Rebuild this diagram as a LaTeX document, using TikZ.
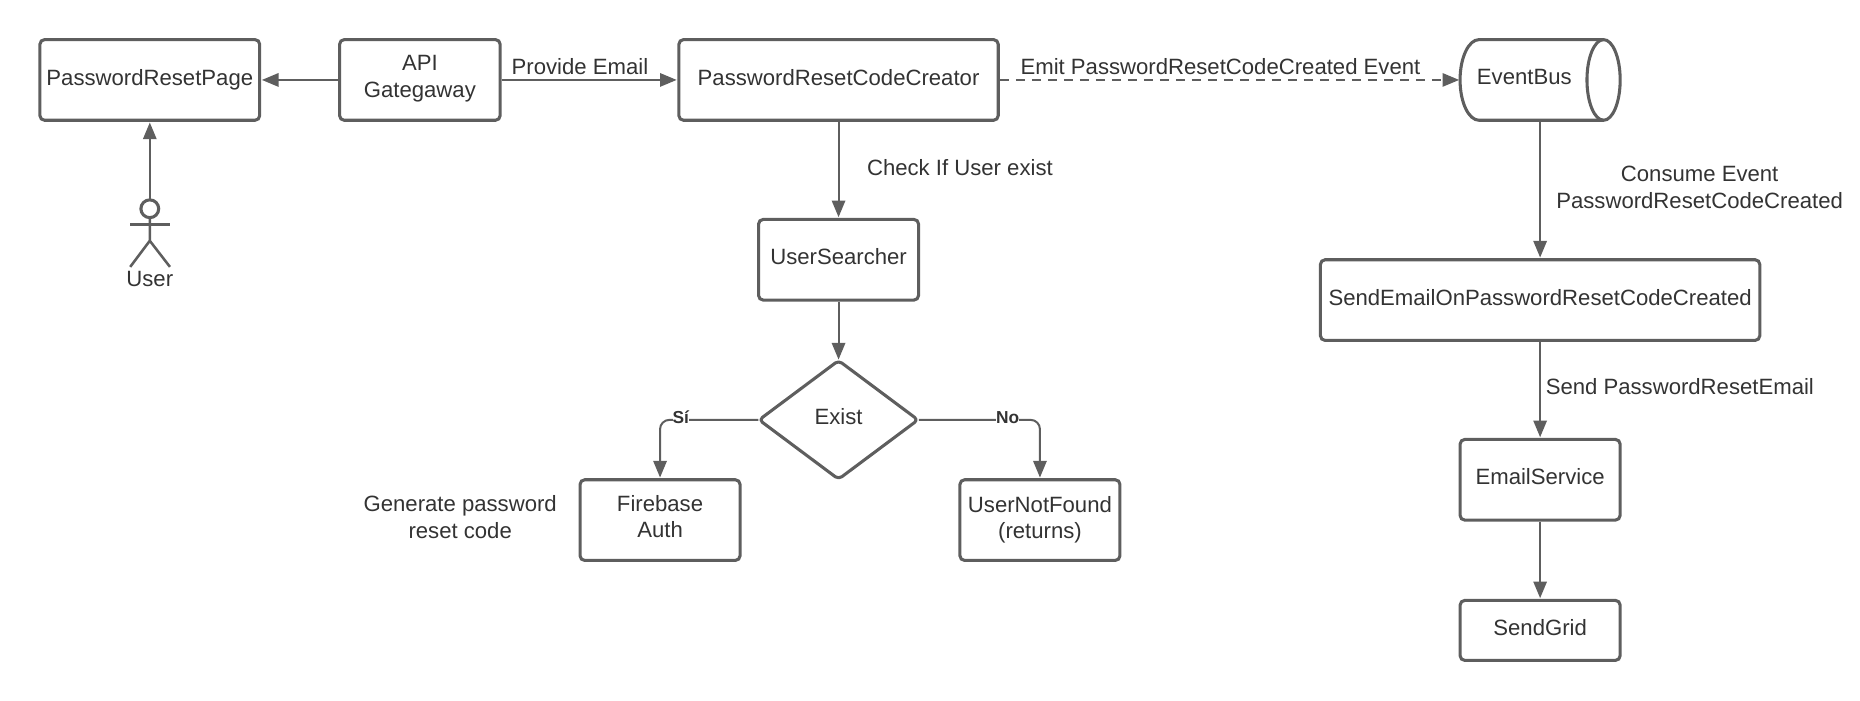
\documentclass[tikz,border=0pt]{standalone}
\usepackage{fontspec}
\setmainfont{Liberation Sans}
\usetikzlibrary{arrows.meta,shapes.geometric}
\definecolor{ln}{HTML}{5E5E5E}
\definecolor{tx}{HTML}{333333}
\newcommand{\twolines}[3]{\raisebox{#3}[\height][\depth]{\begin{tabular}{@{}c@{}}#1\\#2\end{tabular}}}
\tikzset{
  x=0.8895pt,y=-0.8895pt,
  lab/.style={inner sep=0pt,text=tx,align=center,font=\fontsize{16.6}{19.6}\selectfont},
  boxn/.style={lab,draw=ln,line width=2.3pt,rounded corners=3.5pt,fill=white,minimum height=60.5pt},
  con/.style={draw=ln,line width=1.5pt,-{Triangle[length=12.5pt,width=10pt]},shorten >=0.5pt},
  tag/.style={inner sep=0pt,fill=white,text=tx,font=\fontsize{13}{15}\selectfont\bfseries},
}
\begin{document}
\begin{tikzpicture}
\useasboundingbox (0,0) rectangle (1568.2,590.2);
% boxes
\node[boxn,minimum width=164.8pt] (page) at (126.3,67.4) {\raisebox{2.5pt}{PasswordResetPage}};
\node[boxn,minimum width=120.4pt] (api) at (354,67.4) {\twolines{API}{Gategaway}{0.9pt}};
\node[boxn,minimum width=239.5pt] (creator) at (707,67.4) {\raisebox{3pt}{PasswordResetCodeCreator}};
\node[boxn,minimum width=120pt] (searcher) at (707,219) {\raisebox{4.5pt}{UserSearcher}};
\node[boxn,minimum width=120pt] (firebase) at (556.5,438.5) {\twolines{Firebase}{Auth}{0.9pt}};
\node[boxn,minimum width=120pt] (notfound) at (876.8,438.5) {\twolines{UserNotFound}{(returns)}{0pt}};
\node[boxn,minimum width=329.5pt] (sender) at (1298.5,253) {\raisebox{4.5pt}{SendEmailOnPasswordResetCodeCreated}};
\node[boxn,minimum width=120pt] (mail) at (1298.5,404.5) {\raisebox{4.5pt}{EmailService}};
\node[boxn,minimum width=120pt,minimum height=45pt] (grid) at (1298.5,531.5) {\raisebox{4.5pt}{SendGrid}};
% decision
\node[lab,minimum width=120pt,minimum height=89pt] (exist) at (707,354) {\raisebox{5pt}{Exist}};
\draw[draw=ln,line width=2.3pt,rounded corners=3pt,line join=round]
  (640,354) -- (707,304) -- (774,354) -- (707,404) -- cycle;
% event bus
\node[lab,minimum width=120pt,minimum height=60.5pt] (bus) at (1298.5,67.4) {};
\node[lab] (bustext) at (1285.2,65) {EventBus};
\draw[draw=ln,line width=2.3pt] (1352,33.4) -- (1247,33.4)
  arc[start angle=270,end angle=90,x radius=16,y radius=34] -- (1352,101.4);
\draw[draw=ln,line width=2.3pt] (1352,67.4) ellipse[x radius=14,y radius=34];
% actor
\coordinate (head) at (126.3,168);
\draw[draw=ln,line width=2.3pt] (126.3,176) circle[radius=7.5];
\draw[draw=ln,line width=1.9pt] (126.3,183.5) -- (126.3,203) (109.8,225) -- (126.3,203) -- (143.3,225);
\draw[draw=ln,line width=2.4pt] (109.8,189.5) -- (143.3,189.5);
\node[lab] (user) at (126.3,235) {User};
% connectors
\draw[con] (head) -- (page);
\draw[con] (api) -- (page);
\draw[con] (api) -- (creator);
\draw[con,dashed,dash pattern=on 7pt off 5pt] (creator.east) -- (bus.west);
\draw[con] (creator) -- (searcher);
\draw[con] (searcher) -- (exist.north);
\draw[con,rounded corners=7pt] (exist.west) -| (firebase.north);
\draw[con,rounded corners=7pt] (exist.east) -| (notfound.north);
\draw[con] (bus) -- (sender);
\draw[con] (sender) -- (mail);
\draw[con] (mail) -- (grid);
% tags
\node[tag] (si) at (574,352) {Sí};
\node[tag] (no) at (849.5,352) {No};
% labels
\node[lab] (t1) at (489,56.5) {Provide Email};
\node[lab] (t2) at (1029,56.5) {Emit PasswordResetCodeCreated Event};
\node[lab] (t3) at (809.3,141) {Check If User exist};
\node[lab] (t4) at (1433,158) {Consume Event\\PasswordResetCodeCreated};
\node[lab] (t5) at (1416.3,326) {Send PasswordResetEmail};
\node[lab] (t6) at (388,436) {Generate password\\reset code};
\end{tikzpicture}
\end{document}
